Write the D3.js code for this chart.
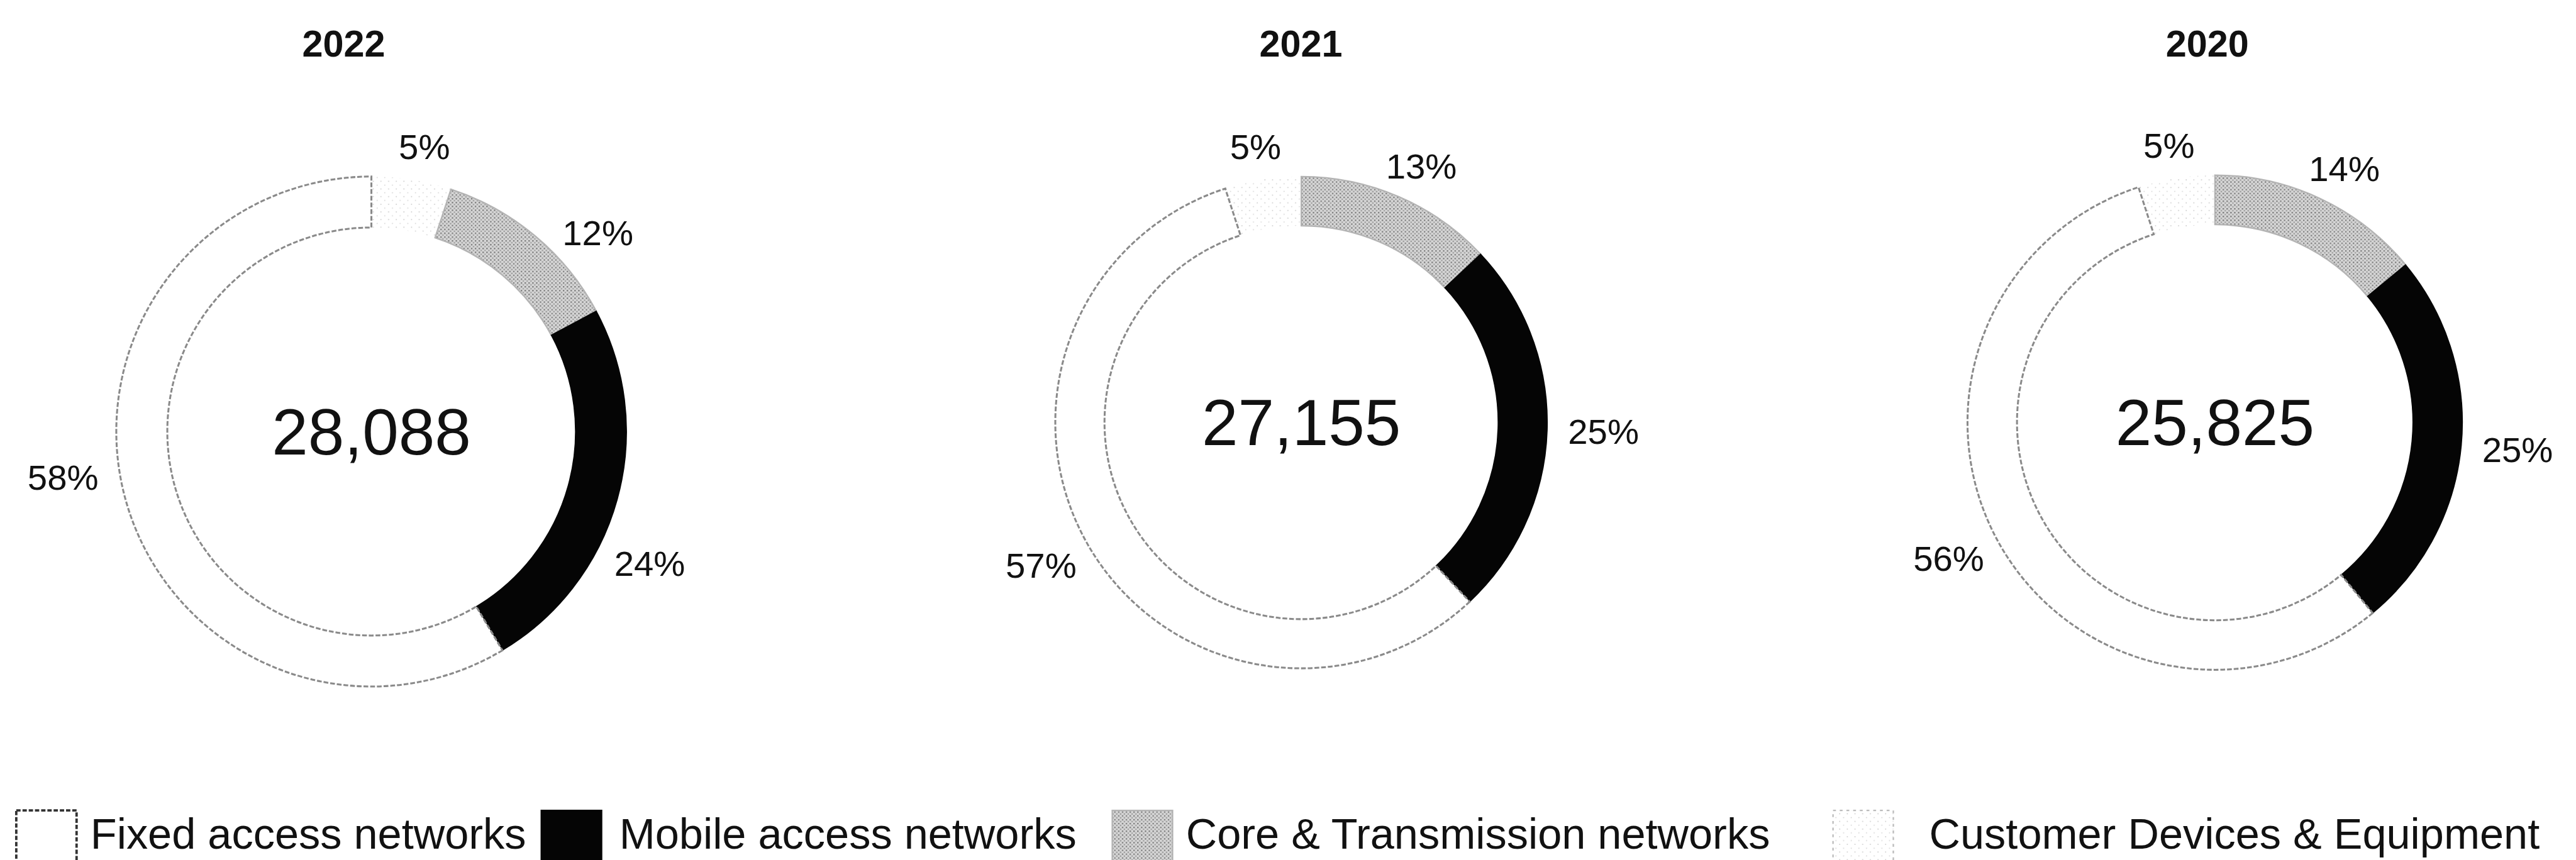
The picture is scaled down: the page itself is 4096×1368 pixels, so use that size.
<!DOCTYPE html>
<html>
<head>
<meta charset="utf-8">
<script src="https://cdn.jsdelivr.net/npm/d3@7"></script>
<style>
  body { margin: 0; background: #fff; overflow: hidden; }
  svg { display: block; }
  text { font-family: "Liberation Sans", Arial, sans-serif; fill: #111; }
</style>
</head>
<body>
<div id="chart"></div>
<script>
// categories in legend order
var categories = ["Fixed access networks", "Mobile access networks", "Core & Transmission networks", "Customer Devices & Equipment"];
var years = ["2022", "2021", "2020"];
var totals = ["28,088", "27,155", "25,825"];

// share of each category per year (%)
var fixedShare    = [58, 57, 56];
var mobileShare   = [24, 25, 25];
var coreShare     = [12, 13, 14];
var customerShare = [5, 5, 5];

// layout, in pixels of the reference picture (scaled down below)
var scale = 0.761;
var donuts = [
  {cx: 776,  cy: 902, r: 533, start: 0,   titleX: 718,  nudge: [1, 6.5, 11.5, 6.5]},
  {cx: 2719, cy: 883, r: 514, start: -18, titleX: 2718, nudge: [0, 0, 0, 0]},
  {cx: 4628, cy: 883, r: 517, start: -18, titleX: 4612, nudge: [0, 0, 0, 0]}
];
var legendSwatchX = [34, 1131, 2324, 3830];
var legendTextX = [189, 1294, 2478, 4031];

// clockwise from the top: customer, core, mobile, fixed
var drawOrder = [3, 2, 1, 0];
var shareOf = [fixedShare, mobileShare, coreShare, customerShare];

var svg = d3.select("#chart").append("svg")
    .attr("width", 4096)
    .attr("height", 1368);

var defs = svg.append("defs");

var pCore = defs.append("pattern")
    .attr("id", "pat-core")
    .attr("patternUnits", "userSpaceOnUse")
    .attr("width", 8).attr("height", 8);
pCore.append("rect").attr("width", 8).attr("height", 8).attr("fill", "#d6d6d6");
pCore.append("rect").attr("x", 0).attr("y", 0).attr("width", 3).attr("height", 3).attr("fill", "#7c7c7c");
pCore.append("rect").attr("x", 4).attr("y", 4).attr("width", 3).attr("height", 3).attr("fill", "#9a9a9a");

var pCust = defs.append("pattern")
    .attr("id", "pat-cust")
    .attr("patternUnits", "userSpaceOnUse")
    .attr("width", 16).attr("height", 16);
pCust.append("rect").attr("width", 16).attr("height", 16).attr("fill", "#fff");
pCust.append("rect").attr("x", 3).attr("y", 4).attr("width", 2).attr("height", 2).attr("fill", "#c4c4c4");
pCust.append("rect").attr("x", 11).attr("y", 12).attr("width", 2).attr("height", 2).attr("fill", "#d0d0d0");

var styles = [
  {fill: "#fff", stroke: "#8a8a8a", width: 4, dash: "10 4"},
  {fill: "#050505", stroke: "#050505", width: 2, dash: null},
  {fill: "url(#pat-core)", stroke: "#b4b4b4", width: 3, dash: null},
  {fill: "url(#pat-cust)", stroke: "none", width: 0, dash: null}
];

var g = svg.append("g").attr("transform", "scale(" + scale + ")");

donuts.forEach(function(c, i) {
  var slices = drawOrder.map(function(k) { return {cat: k, value: shareOf[k][i]}; });
  var a0 = c.start * Math.PI / 180;
  var pie = d3.pie().sort(null).value(function(d) { return d.value; })
      .startAngle(a0).endAngle(a0 + 2 * Math.PI);
  var arc = d3.arc().innerRadius(c.r * 0.8).outerRadius(c.r);

  var dg = g.append("g").attr("transform", "translate(" + c.cx + "," + c.cy + ")");

  dg.selectAll("path")
    .data(pie(slices))
    .enter()
    .append("path")
      .attr("d", arc)
      .attr("fill", function(d) { return styles[d.data.cat].fill; })
      .attr("stroke", function(d) { return styles[d.data.cat].stroke; })
      .attr("stroke-width", function(d) { return styles[d.data.cat].width; })
      .attr("stroke-dasharray", function(d) { return styles[d.data.cat].dash; });

  // percent labels, outside end
  dg.selectAll("text.pct")
    .data(pie(slices))
    .enter()
    .append("text")
      .attr("class", "pct")
      .attr("text-anchor", "middle")
      .style("font-size", "74px")
      .text(function(d) { return d.data.value + "%"; })
      .each(function(d, j) {
        var w = this.getComputedTextLength();
        var h = 54;
        var t = (d.startAngle + d.endAngle) / 2 + c.nudge[j] * Math.PI / 180;
        var p = c.r * 1.085;
        var x = Math.sin(t) * (p + w / 2);
        var y = -Math.cos(t) * (p + h / 2);
        d3.select(this).attr("x", x).attr("y", y + h / 2);
      });

  // total in the middle
  dg.append("text")
    .attr("text-anchor", "middle")
    .attr("x", 0)
    .attr("y", 48)
    .style("font-size", "136px")
    .text(totals[i]);

  // year title
  g.append("text")
    .attr("text-anchor", "middle")
    .attr("x", c.titleX)
    .attr("y", 118)
    .style("font-size", "78px")
    .style("font-weight", "bold")
    .text(years[i]);
});

// legend
var leg = g.selectAll("g.legend")
  .data(categories)
  .enter()
  .append("g")
    .attr("class", "legend");

leg.append("rect")
    .attr("x", function(d, i) { return legendSwatchX[i]; })
    .attr("y", 1694)
    .attr("width", 126)
    .attr("height", 126)
    .attr("fill", function(d, i) { return styles[i].fill; })
    .attr("stroke", function(d, i) { return i === 0 ? "#333" : (i === 3 ? "#bbb" : styles[i].stroke); })
    .attr("stroke-width", function(d, i) { return i === 0 ? 5 : 3; })
    .attr("stroke-dasharray", function(d, i) { return i === 0 ? "9 4" : (i === 3 ? "6 8" : null); });

leg.append("text")
    .attr("x", function(d, i) { return legendTextX[i]; })
    .attr("y", 1774)
    .style("font-size", "90px")
    .text(function(d) { return d; });
</script>
</body>
</html>
